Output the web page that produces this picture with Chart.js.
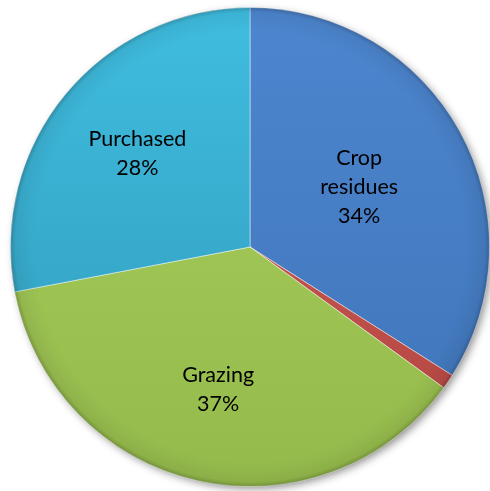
<!DOCTYPE html>
<html>
<head>
<meta charset="utf-8">
<script src="https://cdn.jsdelivr.net/npm/chart.js@4"></script>
<style>
  html, body { margin: 0; padding: 0; background: #ffffff; }
  #wrap { width: 490px; height: 491px; }
</style>
</head>
<body>
<div id="wrap"><canvas id="pie"></canvas></div>
<script>
// feed sources, share of total (%)
const categories = ['Crop residues', 'Other', 'Grazing', 'Purchased']
const shares = [34, 1, 37, 28]
const showLabel = [true, false, true, true]

// top / bottom tones for each slice
const topColors = ['#4d86cf', '#d0605a', '#a9cf5e', '#3fbde0']
const bottomColors = ['#3f74b8', '#b2443f', '#94ba4b', '#3199b8']

function sliceFill(ctx) {
  const chart = ctx.chart
  const area = chart.chartArea
  if (!area) return topColors[ctx.dataIndex]
  const g = chart.ctx.createLinearGradient(0, area.top, 0, area.bottom)
  g.addColorStop(0, topColors[ctx.dataIndex])
  g.addColorStop(1, bottomColors[ctx.dataIndex])
  return g
}

// soft drop shadow under the whole pie, plus a darker rim for the bevel look
const pieShading = {
  id: 'pieShading',
  beforeDatasetsDraw(chart) {
    const arc = chart.getDatasetMeta(0).data[0]
    if (!arc) return
    const {x, y, outerRadius} = arc.getProps(['x', 'y', 'outerRadius'], true)
    const c = chart.ctx
    c.save()
    c.shadowColor = 'rgba(0,0,0,0.45)'
    c.shadowBlur = 9
    c.shadowOffsetX = 3
    c.shadowOffsetY = 3
    c.fillStyle = '#ffffff'
    c.beginPath()
    c.arc(x, y, outerRadius - 1, 0, Math.PI * 2)
    c.fill()
    c.restore()
  },
  afterDatasetsDraw(chart) {
    const arc = chart.getDatasetMeta(0).data[0]
    if (!arc) return
    const {x, y, outerRadius} = arc.getProps(['x', 'y', 'outerRadius'], true)
    const c = chart.ctx
    c.save()
    c.beginPath()
    c.arc(x, y, outerRadius, 0, Math.PI * 2)
    c.clip()
    const rim = c.createRadialGradient(x, y, outerRadius * 0.9, x, y, outerRadius)
    rim.addColorStop(0, 'rgba(0,0,0,0)')
    rim.addColorStop(0.8, 'rgba(0,0,0,0.06)')
    rim.addColorStop(1, 'rgba(0,0,0,0.22)')
    c.fillStyle = rim
    c.fillRect(x - outerRadius, y - outerRadius, outerRadius * 2, outerRadius * 2)
    c.restore()
  }
}

// category name + percentage written inside each slice
const sliceLabels = {
  id: 'sliceLabels',
  afterDatasetsDraw(chart) {
    const c = chart.ctx
    const meta = chart.getDatasetMeta(0)
    const total = shares.reduce((a, b) => a + b, 0)
    c.save()
    c.fillStyle = '#000000'
    c.font = '21.5px Lato, "Open Sans", sans-serif'
    c.textAlign = 'center'
    c.textBaseline = 'middle'
    meta.data.forEach((arc, i) => {
      if (!showLabel[i]) return
      const p = arc.getProps(['x', 'y', 'startAngle', 'endAngle', 'outerRadius'], true)
      const words = categories[i].split(' ')
      const lines = words.concat([Math.round(shares[i] / total * 100) + '%'])
      // taller label blocks sit a little closer to the centre
      const mid = (p.startAngle + p.endAngle) / 2
      const r = p.outerRadius * (0.61 - (lines.length - 2) * 0.09)
      const cx = p.x + Math.cos(mid) * r
      const cy = p.y + Math.sin(mid) * r
      const lh = 29
      const y0 = cy - (lines.length - 1) * lh / 2
      lines.forEach((t, k) => c.fillText(t, cx, y0 + k * lh))
    })
    c.restore()
  }
}

new Chart(document.getElementById('pie'), {
  type: 'pie',
  data: {
    labels: categories,
    datasets: [{
      data: shares,
      backgroundColor: sliceFill,
      borderColor: 'rgba(255,255,255,0.45)',
      borderWidth: 1
    }]
  },
  options: {
    responsive: true,
    maintainAspectRatio: false,
    animation: false,
    layout: { padding: { top: 7, bottom: 4, left: 10, right: 0 } },
    plugins: {
      legend: { display: false },
      tooltip: { enabled: false }
    }
  },
  plugins: [pieShading, sliceLabels]
})
</script>
</body>
</html>
